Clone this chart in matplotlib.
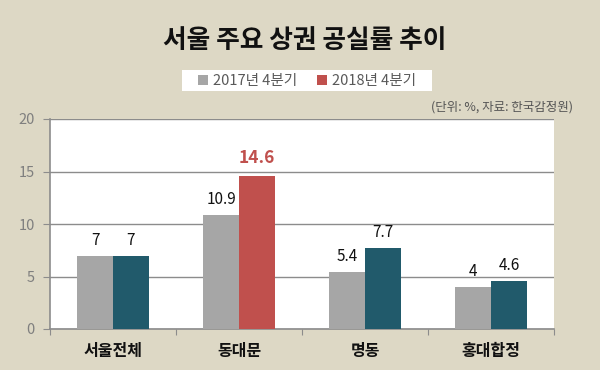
import matplotlib
matplotlib.use("Agg")
import matplotlib.pyplot as plt
import numpy as np
from matplotlib.patches import Patch, Rectangle

plt.rcParams['font.family'] = ['Noto Sans CJK KR', 'DejaVu Sans']

categories = ['서울전체', '동대문', '명동', '홍대합정']
series_names = ['2017년 4분기', '2018년 4분기']
values_2017 = [7, 10.9, 5.4, 4]
values_2018 = [7, 14.6, 7.7, 4.6]
yticks = [0, 5, 10, 15, 20]

bg = '#ddd8c5'
gray = '#a6a6a6'
teal = '#215a6b'
red = '#c0504d'

fig = plt.figure(figsize=(6, 3.7), dpi=100, facecolor=bg)
ax = fig.add_axes([50/600, 1-329/370, (554-50)/600, (329-119)/370])
ax.set_facecolor('white')

x = np.arange(len(categories))
w = 0.285
colors18 = [red if i == 1 else teal for i in range(len(categories))]
ax.bar(x - w/2, values_2017, w, color=gray, zorder=3)
ax.bar(x + w/2, values_2018, w, color=colors18, zorder=3)

for i in range(len(categories)):
    ax.annotate(f'{values_2017[i]:g}', (x[i] - w/2, values_2017[i]), xytext=(0, 5),
                textcoords='offset points', ha='center', va='bottom',
                fontsize=11, fontweight='medium', color='#111111')
    if i == 1:
        ax.annotate(f'{values_2018[i]:g}', (x[i] + w/2, values_2018[i]), xytext=(0, 6),
                    textcoords='offset points', ha='center', va='bottom',
                    fontsize=12.5, fontweight='bold', color=red)
    else:
        ax.annotate(f'{values_2018[i]:g}', (x[i] + w/2, values_2018[i]), xytext=(0, 5),
                    textcoords='offset points', ha='center', va='bottom',
                    fontsize=11, fontweight='medium', color='#111111')

ax.set_xlim(-0.5, len(categories) - 0.5)
ax.set_ylim(0, 20)
ax.set_yticks(yticks)
ax.set_yticklabels([str(t) for t in yticks], color='#7f7f7f', fontsize=10.5)
ax.yaxis.grid(True, color='#8c8c8c', linewidth=1, zorder=0)
ax.set_xticks(np.arange(len(categories) + 1) - 0.5, minor=False)
ax.set_xticklabels([])
ax.set_xticks(x, minor=True)
ax.set_xticklabels(categories, minor=True, fontsize=11.5, fontweight='bold', color='#111111')
ax.tick_params(axis='x', which='minor', length=0, pad=10)
ax.tick_params(axis='x', which='major', length=4, color='#8c8c8c', direction='out')
ax.tick_params(axis='y', length=5, color='#8c8c8c', pad=6)
for s in ['top', 'right']:
    ax.spines[s].set_visible(False)
for s in ['left', 'bottom']:
    ax.spines[s].set_color('#8c8c8c')
    ax.spines[s].set_linewidth(1.2)

fig.text(305/600, 1-40/370, '서울 주요 상권 공실률 추이', ha='center', va='center',
         fontsize=18.5, fontweight='bold', color='#111111')
fig.text(573/600, 1-107/370, '(단위: %, 자료: 한국감정원)', ha='right', va='center',
         fontsize=9, color='#555555')

# legend background box
fig.patches.append(Rectangle((182/600, 1-91/370), (432-182)/600, 21/370,
                             transform=fig.transFigure, facecolor='white', edgecolor='none'))
handles = [Patch(facecolor=gray), Patch(facecolor=red)]
leg = fig.legend(handles, series_names, loc='center', bbox_to_anchor=(307/600, 1-81/370),
                 ncol=2, frameon=False, handlelength=0.7, handleheight=0.7,
                 handletextpad=0.3, columnspacing=1.4, fontsize=10.5, borderpad=0.2,
                 labelcolor='#595959')

fig.savefig('out.png', dpi=100, facecolor=bg)
